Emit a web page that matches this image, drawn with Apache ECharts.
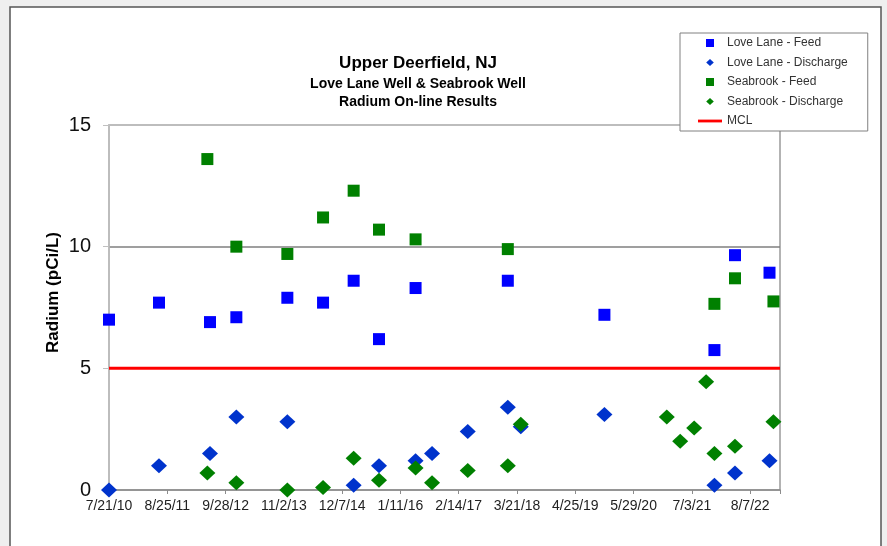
<!DOCTYPE html>
<html>
<head>
<meta charset="utf-8">
<title>Radium On-line Results</title>
<script src="https://cdn.jsdelivr.net/npm/echarts@6/dist/echarts.min.js"></script>
<style>
  html, body { margin: 0; padding: 0; background: #efefef; }
  #main { width: 887px; height: 546px; }
</style>
</head>
<body>
<div id="main"></div>
<script>
// axis range (dates) and MCL limit
var startDate = '2010-07-21';
var endDate = '2023-02-28';
var tickDays = 400;
var mclValue = 5;

// Love Lane - Feed
var llFeedDates = ['2010-07-21', '2011-06-29', '2012-06-13', '2012-12-11', '2013-11-26', '2014-07-29', '2015-02-24',
    '2015-08-17', '2016-04-24', '2018-01-17', '2019-11-11', '2021-12-05', '2022-04-25', '2022-12-18'];
var llFeedValues = [7.0, 7.7, 6.9, 7.1, 7.9, 7.7, 8.6, 6.2, 8.3, 8.6, 7.2, 5.75, 9.65, 8.93];

// Love Lane - Discharge
var llDischDates = ['2010-07-21', '2011-06-29', '2012-06-13', '2012-12-11', '2013-11-26', '2015-02-24', '2015-08-17',
    '2016-04-24', '2016-08-15', '2017-04-17', '2018-01-17', '2018-04-16', '2019-11-11', '2021-12-05', '2022-04-25', '2022-12-18'];
var llDischValues = [0, 1.0, 1.5, 3.0, 2.8, 0.2, 1.0, 1.2, 1.5, 2.4, 3.4, 2.6, 3.1, 0.2, 0.7, 1.2];

// Seabrook - Feed
var sbFeedDates = ['2012-05-26', '2012-12-11', '2013-11-26', '2014-07-29', '2015-02-24', '2015-08-17', '2016-04-24',
    '2018-01-17', '2021-12-05', '2022-04-25', '2023-01-14'];
var sbFeedValues = [13.6, 10.0, 9.7, 11.2, 12.3, 10.7, 10.3, 9.9, 7.65, 8.7, 7.75];

// Seabrook - Discharge
var sbDischDates = ['2012-05-26', '2012-12-11', '2013-11-26', '2014-07-29', '2015-02-24', '2015-08-17', '2016-04-24',
    '2016-08-15', '2017-04-17', '2018-01-17', '2018-04-16', '2021-01-12', '2021-04-14', '2021-07-19', '2021-10-09',
    '2021-12-05', '2022-04-25', '2023-01-14'];
var sbDischValues = [0.7, 0.3, 0, 0.1, 1.3, 0.4, 0.9, 0.3, 0.8, 1.0, 2.7, 3.0, 2.0, 2.55, 4.45, 1.5, 1.8, 2.8];

var yTicks = [0, 5, 10, 15];

var DAY = 864e5;
var t0 = Date.parse(startDate);

function toDays(s) {
    return Math.round((Date.parse(s) - t0) / DAY);
}

function pairs(dates, values) {
    return dates.map(function (d, i) { return [toDays(d), values[i]]; });
}

function fmtDate(v) {
    var d = new Date(t0 + v * DAY);
    return (d.getUTCMonth() + 1) + '/' + d.getUTCDate() + '/' + String(d.getUTCFullYear()).slice(2);
}

var font = 'Liberation Sans, Arial, sans-serif';
var maxDays = toDays(endDate);

// legend icons: the leading moves keep the 24x8 box so the marks stay small
var iconSquare = 'path://M0,0M24,8M8,0L16,0L16,8L8,8Z';
var iconDiamond = 'path://M0,0M24,8M12,0.5L15.8,4L12,7.5L8.2,4Z';
var iconLine = 'path://M0,0M24,8M0,2.6L24,2.6L24,5.4L0,5.4Z';

var myChart = echarts.init(document.getElementById('main'));

var option = {
    backgroundColor: '#efefef',
    textStyle: { fontFamily: font },
    graphic: [{
        type: 'rect',
        z: -10,
        silent: true,
        shape: { x: 10, y: 7, width: 871, height: 560 },
        style: { fill: '#fff', stroke: '#555', lineWidth: 1.5 }
    }],
    title: {
        text: 'Upper Deerfield, NJ',
        subtext: 'Love Lane Well & Seabrook Well\nRadium On-line Results',
        left: 418,
        top: 53,
        padding: 0,
        itemGap: 2,
        textAlign: 'center',
        textStyle: { fontFamily: font, fontSize: 17, fontWeight: 'bold', color: '#000', lineHeight: 20 },
        subtextStyle: { fontFamily: font, fontSize: 14, fontWeight: 'bold', color: '#000', lineHeight: 18 }
    },
    legend: {
        orient: 'vertical',
        left: 680,
        top: 33,
        padding: [3, 20, 3, 18],
        itemWidth: 24,
        itemHeight: 8,
        itemGap: 5.5,
        backgroundColor: '#fff',
        borderColor: '#808080',
        borderWidth: 1,
        textStyle: { fontFamily: font, fontSize: 12, color: '#333', lineHeight: 14 },
        data: [
            { name: 'Love Lane - Feed', icon: iconSquare },
            { name: 'Love Lane - Discharge', icon: iconDiamond },
            { name: 'Seabrook - Feed', icon: iconSquare },
            { name: 'Seabrook - Discharge', icon: iconDiamond },
            { name: 'MCL', icon: iconLine }
        ]
    },
    grid: {
        left: 109,
        top: 125,
        right: 107,
        bottom: 56,
        show: true,
        borderColor: '#9a9a9a',
        borderWidth: 1.5,
        backgroundColor: 'transparent'
    },
    xAxis: {
        type: 'value',
        min: 0,
        max: maxDays,
        interval: tickDays,
        axisLine: { lineStyle: { color: '#8c8c8c', width: 1.5 } },
        axisTick: { length: 4, lineStyle: { color: '#8c8c8c' } },
        axisLabel: {
            margin: 9,
            fontSize: 14,
            color: '#222',
            fontFamily: font,
            formatter: function (v) { return v % tickDays === 0 ? fmtDate(v) : ''; }
        },
        splitLine: { show: false }
    },
    yAxis: {
        type: 'value',
        min: yTicks[0],
        max: yTicks[yTicks.length - 1],
        interval: 5,
        name: 'Radium (pCi/L)',
        nameLocation: 'middle',
        nameGap: 47,
        nameMoveOverlap: false,
        nameTextStyle: { fontFamily: font, fontSize: 17, fontWeight: 'bold', color: '#000', padding: [0, 0, 0, 30] },
        axisLine: { show: true, lineStyle: { color: '#c0c0c0', width: 1.5 } },
        axisTick: { show: true, length: 6, lineStyle: { color: '#c0c0c0' } },
        axisLabel: { margin: 18, fontSize: 20, color: '#111', fontFamily: font },
        splitLine: {
            show: true,
            lineStyle: { color: ['rgba(0,0,0,0)', 'rgba(0,0,0,0)', '#7f7f7f', '#c0c0c0'], width: 1.5 }
        }
    },
    series: [
        {
            name: 'Love Lane - Feed',
            type: 'scatter',
            symbol: 'rect',
            symbolSize: 12,
            clip: false,
            itemStyle: { color: '#0000ff', opacity: 1 },
            data: pairs(llFeedDates, llFeedValues)
        },
        {
            name: 'Love Lane - Discharge',
            type: 'scatter',
            symbol: 'diamond',
            symbolSize: [16, 15],
            clip: false,
            itemStyle: { color: '#0033cc', opacity: 1 },
            data: pairs(llDischDates, llDischValues)
        },
        {
            name: 'Seabrook - Feed',
            type: 'scatter',
            symbol: 'rect',
            symbolSize: 12,
            clip: false,
            itemStyle: { color: '#008000', opacity: 1 },
            data: pairs(sbFeedDates, sbFeedValues)
        },
        {
            name: 'Seabrook - Discharge',
            type: 'scatter',
            symbol: 'diamond',
            symbolSize: [16, 15],
            clip: false,
            itemStyle: { color: '#008000', opacity: 1 },
            data: pairs(sbDischDates, sbDischValues)
        },
        {
            name: 'MCL',
            type: 'line',
            symbol: 'none',
            z: 1,
            silent: true,
            itemStyle: { color: '#ff0000' },
            lineStyle: { color: '#ff0000', width: 3 },
            data: [[0, mclValue], [maxDays, mclValue]]
        }
    ]
};

myChart.setOption(option);
</script>
</body>
</html>
